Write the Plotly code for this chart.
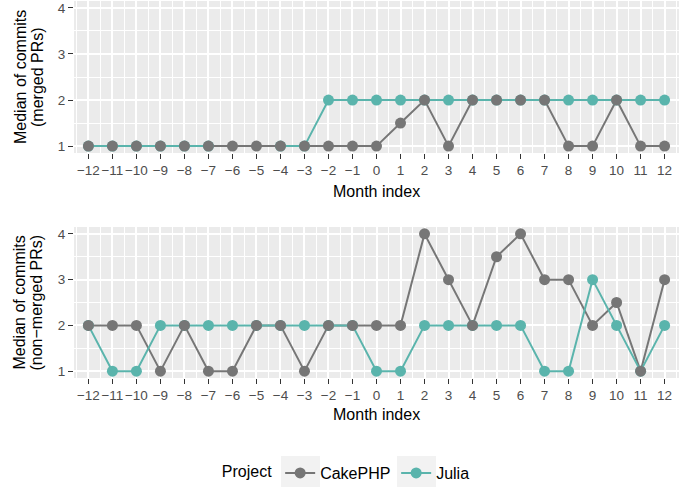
import plotly.graph_objects as go

# Month offsets relative to the event month
months = list(range(-12, 13))
month_labels = [str(m).replace("-", "\u2212") for m in months]

# Median commits per merged PR
cake_merged = [1, 1, 1, 1, 1, 1, 1, 1, 1, 1, 1, 1, 1, 1.5, 2, 1, 2, 2, 2, 2, 1, 1, 2, 1, 1]
julia_merged = [1, 1, 1, 1, 1, 1, None, None, 1, 1, 2, 2, 2, 2, 2, 2, 2, 2, 2, 2, 2, 2, 2, 2, 2]

# Median commits per non-merged PR
cake_nonmerged = [2, 2, 2, 1, 2, 1, 1, 2, 2, 1, 2, 2, 2, 2, 4, 3, 2, 3.5, 4, 3, 3, 2, 2.5, 1, 3]
julia_nonmerged = [2, 1, 1, 2, 2, 2, 2, 2, 2, 2, 2, 2, 1, 1, 2, 2, 2, 2, 2, 1, 1, 3, 2, 1, 2]

y_ticks = [1, 2, 3, 4]

GREY = "#767676"
TEAL = "#5AB4AC"
FONT = "Liberation Sans, Arial, sans-serif"

fig = go.Figure()

panels = [
    ("x", "y", cake_merged, julia_merged),
    ("x2", "y2", cake_nonmerged, julia_nonmerged),
]
for xa, ya, cake, julia in panels:
    # lines first, Julia on top of CakePHP
    fig.add_trace(go.Scatter(x=months, y=cake, mode="lines", xaxis=xa, yaxis=ya,
                             line=dict(color=GREY, width=2), showlegend=False,
                             hoverinfo="skip"))
    fig.add_trace(go.Scatter(x=months, y=julia, mode="lines", xaxis=xa, yaxis=ya,
                             line=dict(color=TEAL, width=2), showlegend=False,
                             connectgaps=False, hoverinfo="skip"))
    # points, CakePHP drawn last
    fig.add_trace(go.Scatter(x=months, y=julia, mode="markers", xaxis=xa, yaxis=ya,
                             marker=dict(color=TEAL, size=11), showlegend=False))
    fig.add_trace(go.Scatter(x=months, y=cake, mode="markers", xaxis=xa, yaxis=ya,
                             marker=dict(color=GREY, size=11), showlegend=False))

# legend entries
for name, col in [("CakePHP", GREY), ("Julia", TEAL)]:
    fig.add_trace(go.Scatter(x=[None], y=[None], mode="lines+markers", name=name,
                             line=dict(color=col, width=2),
                             marker=dict(color=col, size=11)))

common = dict(
    showgrid=True, gridcolor="white", gridwidth=1.6,
    minor=dict(dtick=0.5, tick0=0.5, showgrid=True, gridcolor="white", gridwidth=0.7),
    ticks="outside", ticklen=5, tickwidth=1.4, tickcolor="#333333",
    tickfont=dict(size=13.5, color="#4D4D4D", family=FONT), tickangle=0,
    zeroline=False, showline=False, fixedrange=True,
)
xaxis_style = dict(range=[-12.6, 12.6], tickvals=months, ticktext=month_labels, **common)
yaxis_style = dict(range=[0.85, 4.15], tickvals=y_ticks,
                   ticktext=[str(v) for v in y_ticks], **common)

top_dom = [0.5968, 1.0]
bot_dom = [0.0, 0.4005]

fig.update_layout(
    width=685, height=487,
    margin=dict(l=74, r=6, t=1, b=109, autoexpand=False),
    paper_bgcolor="white",
    plot_bgcolor="#EBEBEB",
    font=dict(family=FONT, color="black"),
    xaxis=dict(**xaxis_style, anchor="y"),
    yaxis=dict(**yaxis_style, domain=top_dom, anchor="x"),
    xaxis2=dict(**xaxis_style, anchor="y2"),
    yaxis2=dict(**yaxis_style, domain=bot_dom, anchor="x2"),
    legend=dict(
        orientation="h", x=0.241, xanchor="left", y=-0.252, yanchor="middle",
        title=dict(text="Project", side="left", font=dict(size=16, color="black")),
        font=dict(size=16, color="black"), bgcolor="rgba(0,0,0,0)",
        entrywidth=71, entrywidthmode="pixels",
    ),
    showlegend=True,
)

# legend key backgrounds
for x0, x1 in [(281, 320), (397, 436)]:
    fig.add_shape(type="rect", xref="paper", yref="paper",
                  x0=(x0 - 74) / 605, x1=(x1 - 74) / 605,
                  y0=(378 - 487) / 377, y1=(378 - 456) / 377,
                  fillcolor="#F2F2F2", line=dict(width=0), layer="below")

# axis titles
for dom, shift in ((top_dom, -38), (bot_dom, -36)):
    fig.add_annotation(text="Month index", xref="paper", yref="paper",
                       x=0.5, y=dom[0], yshift=shift, showarrow=False,
                       font=dict(size=16, color="black"), yanchor="middle")
for dom, sub in ((top_dom, "(merged PRs)"), (bot_dom, "(non\u2212merged PRs)")):
    mid = (dom[0] + dom[1]) / 2
    for line_text, xs in (("Median of commits", -54), (sub, -37)):
        fig.add_annotation(text=line_text, xref="paper", yref="paper",
                           x=0, xshift=xs, y=mid, showarrow=False,
                           textangle=-90, font=dict(size=16, color="black"),
                           xanchor="center", yanchor="middle")

fig.write_html("out.html")
